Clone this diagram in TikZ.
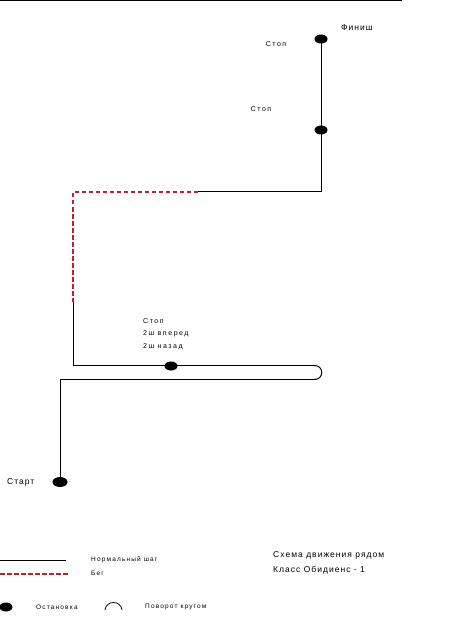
\documentclass[tikz,border=0pt]{standalone}
\usepackage{fontspec}
\setmainfont{Liberation Sans}
\newfontfamily\wideA[LetterSpace=22]{Liberation Sans}
\newfontfamily\wideB[LetterSpace=12]{Liberation Sans}
\newfontfamily\wideC[LetterSpace=18]{Liberation Sans}
\usetikzlibrary{shapes.geometric}
\definecolor{runred}{HTML}{C41E2C}
\tikzset{
  walk/.style={line width=1pt, black},
  run/.style={line width=1.8pt, runred, dash pattern=on 4.5pt off 2.5pt},
  stopdot/.style={ellipse, fill=black, minimum width=13pt, minimum height=9pt, inner sep=0pt},
  lbl/.style={font=\wideA\fontsize{7}{8}\selectfont, inner sep=0pt},
  big/.style={font=\wideB\fontsize{8.5}{10}\selectfont, inner sep=0pt},
  leg/.style={font=\wideC\fontsize{6.5}{8}\selectfont, inner sep=0pt, anchor=west},
}
\begin{document}
\begin{tikzpicture}[x=1pt,y=-1pt]
\useasboundingbox (0,0) rectangle (454,620);
% top rule
\coordinate (tl) at (0,0.6);
\coordinate (tr) at (402,0.6);
\draw[line width=1.2pt] (tl) -- (tr);

% path coordinates
\coordinate (fin) at (321,39);
\coordinate (c1) at (321,192);
\coordinate (c2) at (198,192);
\coordinate (c3) at (73,192);
\coordinate (c4) at (73,302);
\coordinate (c5) at (73,365.5);
\coordinate (c6) at (315,365.5);
\coordinate (c7) at (315,379.5);
\coordinate (c8) at (60,379.5);
\coordinate (st) at (60,482);

\draw[walk] (fin) -- (c1) -- (c2);
\draw[run] (c2) -- (c3) -- (c4);
\draw[walk] (c4) -- (c5) -- (c6);
\draw[walk] (c6) .. controls (324,366) and (324,379) .. (c7);
\draw[walk] (c7) -- (c8) -- (st);

\node[stopdot] (dfin) at (fin) {};
\node[stopdot] (d2) at (321,130) {};
\node[stopdot] (d3) at (171,366) {};
\node[stopdot, minimum width=15pt, minimum height=10pt] (dst) at (st) {};

\node[big] (tfin) at (357,28) {Финиш};
\node[lbl] (ts1) at (276,44) {Стоп};
\node[lbl] (ts2) at (261,109) {Стоп};
\node[lbl, anchor=west] (ts3) at (143,321) {Стоп};
\node[lbl, anchor=west] (tf) at (143,334) {2ш вперед};
\node[lbl, anchor=west] (tb) at (143,347) {2ш назад};
\node[big, anchor=west] (tst) at (7,482.5) {Старт};

% legend
\coordinate (l1a) at (0,560);
\coordinate (l1b) at (66,560);
\coordinate (l2a) at (0,574);
\coordinate (l2b) at (68,574);
\draw[walk] (l1a) -- (l1b);
\draw[run] (l2a) -- (l2b);
\node[leg] (tn) at (91,559.5) {Нормальный шаг};
\node[leg] (tr2) at (91,573.5) {Бег};
\node[stopdot] (ldot) at (6,607) {};
\node[leg] (to) at (36,607) {Остановка};
\coordinate (a1) at (105,610);
\coordinate (a2) at (122,610);
\draw[line width=0.8pt] (a1) .. controls (106,600) and (121,600) .. (a2);
\node[leg] (tp) at (145,607) {Поворот кругом};

\node[big, anchor=west] (th1) at (273,555) {Схема движения рядом};
\node[big, anchor=west] (th2) at (273,570) {Класс Обидиенс - 1};
\end{tikzpicture}
\end{document}
